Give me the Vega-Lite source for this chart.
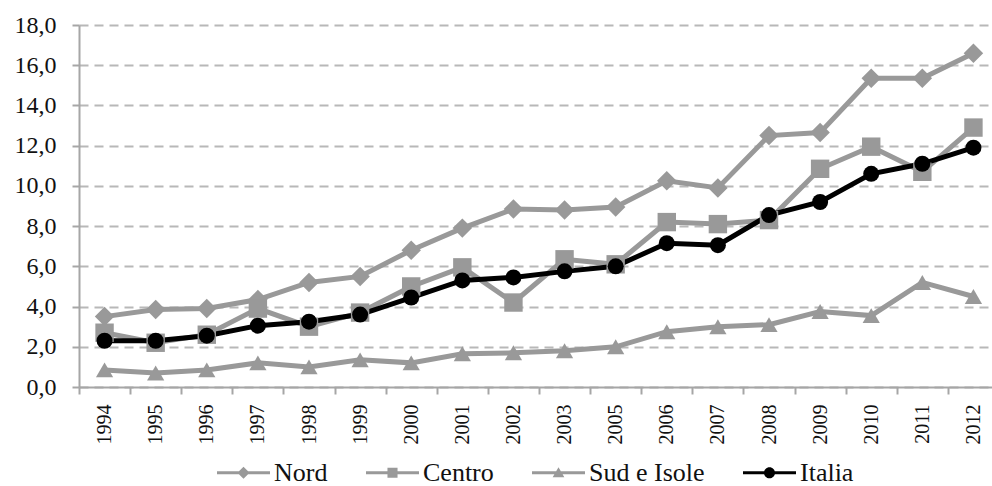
{
  "$schema": "https://vega.github.io/schema/vega-lite/v6.json",
  "autosize": {"type": "none"},
  "padding": {"left": 79, "top": 25, "right": 0, "bottom": 99},
  "width": 913,
  "height": 362,
  "background": "white",
  "config": {
    "view": {"stroke": null},
    "font": "Liberation Serif",
    "legend": {"labelFont": "Liberation Serif"}
  },
  "datasets": {
    "main": [
      {"anno": "1994", "serie": "Nord", "valore": 3.5},
      {"anno": "1995", "serie": "Nord", "valore": 3.85},
      {"anno": "1996", "serie": "Nord", "valore": 3.9},
      {"anno": "1997", "serie": "Nord", "valore": 4.35},
      {"anno": "1998", "serie": "Nord", "valore": 5.2},
      {"anno": "1999", "serie": "Nord", "valore": 5.5},
      {"anno": "2000", "serie": "Nord", "valore": 6.8},
      {"anno": "2001", "serie": "Nord", "valore": 7.9},
      {"anno": "2002", "serie": "Nord", "valore": 8.85},
      {"anno": "2003", "serie": "Nord", "valore": 8.8},
      {"anno": "2005", "serie": "Nord", "valore": 8.95},
      {"anno": "2006", "serie": "Nord", "valore": 10.25},
      {"anno": "2007", "serie": "Nord", "valore": 9.9},
      {"anno": "2008", "serie": "Nord", "valore": 12.5},
      {"anno": "2009", "serie": "Nord", "valore": 12.65},
      {"anno": "2010", "serie": "Nord", "valore": 15.35},
      {"anno": "2011", "serie": "Nord", "valore": 15.35},
      {"anno": "2012", "serie": "Nord", "valore": 16.6},
      {"anno": "1994", "serie": "Centro", "valore": 2.7},
      {"anno": "1995", "serie": "Centro", "valore": 2.2},
      {"anno": "1996", "serie": "Centro", "valore": 2.6},
      {"anno": "1997", "serie": "Centro", "valore": 3.9},
      {"anno": "1998", "serie": "Centro", "valore": 3.0},
      {"anno": "1999", "serie": "Centro", "valore": 3.7},
      {"anno": "2000", "serie": "Centro", "valore": 5.0},
      {"anno": "2001", "serie": "Centro", "valore": 5.95},
      {"anno": "2002", "serie": "Centro", "valore": 4.2},
      {"anno": "2003", "serie": "Centro", "valore": 6.35},
      {"anno": "2005", "serie": "Centro", "valore": 6.1},
      {"anno": "2006", "serie": "Centro", "valore": 8.2},
      {"anno": "2007", "serie": "Centro", "valore": 8.1},
      {"anno": "2008", "serie": "Centro", "valore": 8.3},
      {"anno": "2009", "serie": "Centro", "valore": 10.85},
      {"anno": "2010", "serie": "Centro", "valore": 11.95},
      {"anno": "2011", "serie": "Centro", "valore": 10.7},
      {"anno": "2012", "serie": "Centro", "valore": 12.9},
      {"anno": "1994", "serie": "Sud e Isole", "valore": 0.85},
      {"anno": "1995", "serie": "Sud e Isole", "valore": 0.7},
      {"anno": "1996", "serie": "Sud e Isole", "valore": 0.85},
      {"anno": "1997", "serie": "Sud e Isole", "valore": 1.2},
      {"anno": "1998", "serie": "Sud e Isole", "valore": 1.0},
      {"anno": "1999", "serie": "Sud e Isole", "valore": 1.35},
      {"anno": "2000", "serie": "Sud e Isole", "valore": 1.2},
      {"anno": "2001", "serie": "Sud e Isole", "valore": 1.65},
      {"anno": "2002", "serie": "Sud e Isole", "valore": 1.7},
      {"anno": "2003", "serie": "Sud e Isole", "valore": 1.8},
      {"anno": "2005", "serie": "Sud e Isole", "valore": 2.0},
      {"anno": "2006", "serie": "Sud e Isole", "valore": 2.75},
      {"anno": "2007", "serie": "Sud e Isole", "valore": 3.0},
      {"anno": "2008", "serie": "Sud e Isole", "valore": 3.1},
      {"anno": "2009", "serie": "Sud e Isole", "valore": 3.75},
      {"anno": "2010", "serie": "Sud e Isole", "valore": 3.55},
      {"anno": "2011", "serie": "Sud e Isole", "valore": 5.2},
      {"anno": "2012", "serie": "Sud e Isole", "valore": 4.5},
      {"anno": "1994", "serie": "Italia", "valore": 2.3},
      {"anno": "1995", "serie": "Italia", "valore": 2.3},
      {"anno": "1996", "serie": "Italia", "valore": 2.55},
      {"anno": "1997", "serie": "Italia", "valore": 3.05},
      {"anno": "1998", "serie": "Italia", "valore": 3.25},
      {"anno": "1999", "serie": "Italia", "valore": 3.6},
      {"anno": "2000", "serie": "Italia", "valore": 4.45},
      {"anno": "2001", "serie": "Italia", "valore": 5.3},
      {"anno": "2002", "serie": "Italia", "valore": 5.45},
      {"anno": "2003", "serie": "Italia", "valore": 5.75},
      {"anno": "2005", "serie": "Italia", "valore": 6.0},
      {"anno": "2006", "serie": "Italia", "valore": 7.15},
      {"anno": "2007", "serie": "Italia", "valore": 7.05},
      {"anno": "2008", "serie": "Italia", "valore": 8.55},
      {"anno": "2009", "serie": "Italia", "valore": 9.2},
      {"anno": "2010", "serie": "Italia", "valore": 10.6},
      {"anno": "2011", "serie": "Italia", "valore": 11.1},
      {"anno": "2012", "serie": "Italia", "valore": 11.9}
    ]
  },
  "data": {"name": "main"},
  "encoding": {
    "x": {
      "field": "anno",
      "type": "ordinal",
      "sort": null,
      "scale": {"type": "band", "paddingInner": 0, "paddingOuter": 0, "range": [0, 920]},
      "axis": {
        "title": null,
        "tickBand": "extent",
        "labelAngle": -90,
        "labelFont": "Liberation Serif",
        "labelFontSize": 20,
        "labelColor": "#111111",
        "labelPadding": 10,
        "tickSize": 7,
        "tickColor": "#a6a6a6",
        "tickWidth": 2,
        "domainColor": "#a6a6a6",
        "domainWidth": 2,
        "grid": false
      }
    },
    "y": {
      "field": "valore",
      "type": "quantitative",
      "scale": {"domain": [0, 18], "nice": false, "zero": true},
      "axis": {
        "title": null,
        "values": [0, 2, 4, 6, 8, 10, 12, 14, 16, 18],
        "labelExpr": "replace(format(datum.value, '.1f'), '.', ',')",
        "labelFont": "Liberation Serif",
        "labelFontSize": 24,
        "labelColor": "#111111",
        "labelPadding": 16,
        "tickSize": 7,
        "tickColor": "#a6a6a6",
        "tickWidth": 2,
        "domainColor": "#a6a6a6",
        "domainWidth": 2,
        "grid": true,
        "gridColor": "#b8b8b8",
        "gridWidth": 2,
        "gridDash": [9, 6]
      }
    }
  },
  "layer": [
    {
      "mark": {"type": "line", "strokeWidth": 5},
      "encoding": {
        "color": {
          "field": "serie",
          "type": "nominal",
          "scale": {"domain": ["Nord", "Centro", "Sud e Isole", "Italia"], "range": ["#999999", "#999999", "#999999", "#000000"]},
          "legend": null
        },
        "detail": {"field": "serie"}
      }
    },
    {
      "mark": {"type": "point", "filled": true, "opacity": 1},
      "encoding": {
        "color": {
          "field": "serie",
          "type": "nominal",
          "scale": {"domain": ["Nord", "Centro", "Sud e Isole", "Italia"], "range": ["#999999", "#999999", "#999999", "#000000"]},
          "legend": null
        },
        "shape": {
          "field": "serie",
          "type": "nominal",
          "scale": {"domain": ["Nord", "Centro", "Sud e Isole", "Italia"], "range": ["diamond", "square", "triangle-up", "circle"]},
          "legend": null
        },
        "size": {
          "field": "serie",
          "type": "nominal",
          "scale": {"domain": ["Nord", "Centro", "Sud e Isole", "Italia"], "range": [380, 256, 340, 320]},
          "legend": null
        }
      }
    },
    {
      "transform": [{"filter": "datum.valore < -100"}],
      "mark": {"type": "point", "filled": true, "opacity": 1},
      "encoding": {
        "color": {
          "field": "serie",
          "type": "nominal",
          "scale": {"domain": ["Nord", "Centro", "Sud e Isole", "Italia"], "range": ["#999999", "#999999", "#999999", "#000000"]},
          "legend": {
            "title": null,
            "orient": "none",
            "direction": "horizontal",
            "legendX": 138,
            "legendY": 421,
            "padding": 0,
            "symbolSize": 2809,
            "symbolStrokeWidth": 0,
            "labelFont": "Liberation Serif",
            "labelFontSize": 26,
            "labelColor": "#111111",
            "labelOffset": 4,
            "columnPadding": 38
          }
        },
        "shape": {
          "field": "serie",
          "type": "nominal",
          "scale": {
            "domain": ["Nord", "Centro", "Sud e Isole", "Italia"],
            "range": [
              "M-1,-0.057H1V0.057H-1Z M0,-0.23L0.23,0L0,0.23L-0.23,0Z",
              "M-1,-0.057H1V0.057H-1Z M-0.19,-0.19H0.19V0.19H-0.19Z",
              "M-1,-0.057H1V0.057H-1Z M0,-0.21L0.22,0.17H-0.22Z",
              "M-1,-0.057H1V0.057H-1Z M-0.21,0A0.21,0.21,0,1,1,0.21,0A0.21,0.21,0,1,1,-0.21,0Z"
            ]
          }
        }
      }
    }
  ],
  "resolve": {"scale": {"color": "independent", "shape": "independent", "size": "independent"}}
}
